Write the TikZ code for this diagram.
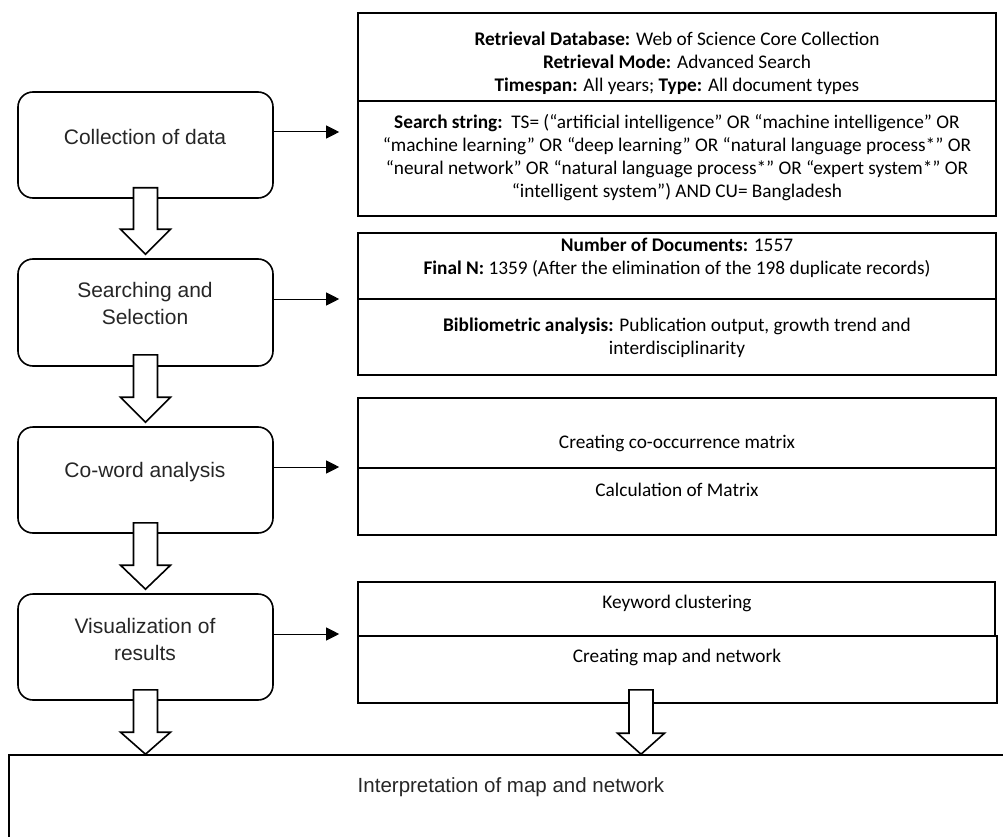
\documentclass[tikz,border=0pt]{standalone}
\usepackage{fontspec}
\setmainfont{Carlito}
\newfontfamily\arialf{Liberation Sans}
\usetikzlibrary{arrows.meta,calc}
\newcommand\blockarrow[4]{%
  \draw[blk] let \p1=(#1), \p2=(#2) in
  (\x1-12pt,\y1) -- (\x1+12pt,\y1) -- (\x1+12pt,\y2+#4) -- (\x1+#3,\y2+#4) -- (\x1,\y2)
  -- (\x1-#3,\y2+#4) -- (\x1-12pt,\y2+#4) -- cycle;}
\begin{document}
\begin{tikzpicture}[x=1pt,y=-1pt,
  lbox/.style={draw, line width=1.6pt, rounded corners=15pt, minimum width=255pt, inner sep=0pt},
  rbox/.style={draw, line width=1.6pt, inner sep=0pt},
  ltext/.style={font=\arialf\fontsize{21}{27}\selectfont, text=black!85, align=center, inner sep=0pt},
  rtext/.style={font=\fontsize{19.3}{23}\selectfont, align=center, inner sep=0pt},
  btext/.style={font=\arialf\fontsize{20.5}{24}\selectfont, text=black!85, inner sep=0pt},
  conn/.style={-{Triangle[length=13pt,width=13pt]}, line width=1pt, shorten >=18pt},
  blk/.style={draw, fill=white, line width=1.6pt}]
\useasboundingbox (0,0) rectangle (1003,837);
\clip (0,0) rectangle (1003,837);

% left process boxes
\node[lbox, minimum height=106pt] (L1) at (145.5,145) {};
\node[lbox, minimum height=107pt] (L2) at (145.5,312.5) {};
\node[lbox, minimum height=106pt] (L3) at (145.5,480) {};
\node[lbox, minimum height=106pt] (L4) at (145.5,647) {};

\node[ltext] (t1) at (145,137) {Collection of data};
\node[ltext] (t2) at (145,303.5) {Searching and\\Selection};
\node[ltext] (t3) at (145,472) {Co-word analysis};
\node[ltext] (t4) at (145,639) {Visualization of\\results};

% right detail boxes
\node[rbox, minimum width=638pt, minimum height=88pt] (R1a) at (677,57) {};
\node[rbox, minimum width=638pt, minimum height=115pt] (R1b) at (677,158.5) {};
\node[rbox, minimum width=638pt, minimum height=66pt] (R2a) at (677,266) {};
\node[rbox, minimum width=638pt, minimum height=76pt] (R2b) at (677,337) {};
\node[rbox, minimum width=638pt, minimum height=70pt] (R3a) at (677,433) {};
\node[rbox, minimum width=638pt, minimum height=67pt] (R3b) at (677,501.5) {};
\node[rbox, minimum width=637pt, minimum height=54pt] (R4a) at (676.5,609) {};
\node[rbox, minimum width=639pt, minimum height=67pt] (R4b) at (677.5,669.5) {};

\node[rtext] (s1) at (677,63) {\textbf{Retrieval Database:} Web of Science Core Collection\\
  \textbf{Retrieval Mode:} Advanced Search\\
  \textbf{Timespan:} All years; \textbf{Type:} All document types};
\node[rtext] (s2) at (677,157.5) {\textbf{Search string:}\ \ TS= (“artificial intelligence” OR “machine intelligence” OR\\
  “machine learning” OR “deep learning” OR “natural language process*” OR\\
  “neural network” OR “natural language process*” OR “expert system*” OR\\
  “intelligent system”) AND CU= Bangladesh};
\node[rtext] (s3) at (677,257.5) {\textbf{Number of Documents:} 1557\\
  \textbf{Final N:} 1359 (After the elimination of the 198 duplicate records)};
\node[rtext] (s4) at (677,338) {\textbf{Bibliometric analysis:} Publication output, growth trend and\\
  interdisciplinarity};
\node[rtext] (s5) at (677,443) {Creating co-occurrence matrix};
\node[rtext] (s6) at (677,490) {Calculation of Matrix};
\node[rtext] (s7) at (677,603) {Keyword clustering};
\node[rtext] (s8) at (677,657) {Creating map and network};

% bottom box
\node[rbox, minimum width=1001pt, minimum height=90pt] (B) at (509.5,800) {};
\node[btext] (bt) at (511,787) {Interpretation of map and network};

% horizontal connectors
\coordinate (a1) at ([yshift=13pt]L1.east);
\coordinate (a2) at ([yshift=13.5pt]L2.east);
\coordinate (a3) at ([yshift=13pt]L3.east);
\coordinate (a4) at ([yshift=13pt]L4.east);
\draw[conn] (a1) -- (a1 -| R1b.west);
\draw[conn] (a2) -- (a2 -| R2b.west);
\draw[conn] (a3) -- (a3 -| R3b.west);
\draw[conn] (a4) -- (a4 -| R4b.west);

% block arrows
\coordinate (d1) at ($(L1.south)+(0,-11)$);
\coordinate (d2) at ($(L2.south)+(0,-12)$);
\coordinate (d3) at ($(L3.south)+(0,-11)$);
\coordinate (d4) at ($(L4.south)+(0,-11)$);
\coordinate (d5) at ($(R4b.south)+(-36.5,-14)$);
\coordinate (e1) at ($(L2.north)+(0,-4)$);
\coordinate (e2) at ($(L3.north)+(0,-4)$);
\coordinate (e3) at ($(L4.north)+(0,-4)$);
\coordinate (e4) at (B.north);
\blockarrow{d1}{e1}{25pt}{25pt}
\blockarrow{d2}{e2}{25pt}{25pt}
\blockarrow{d3}{e3}{25pt}{24pt}
\blockarrow{d4}{e4}{25pt}{22pt}
\blockarrow{d5}{e4}{23.5pt}{21pt}
\end{tikzpicture}
\end{document}
